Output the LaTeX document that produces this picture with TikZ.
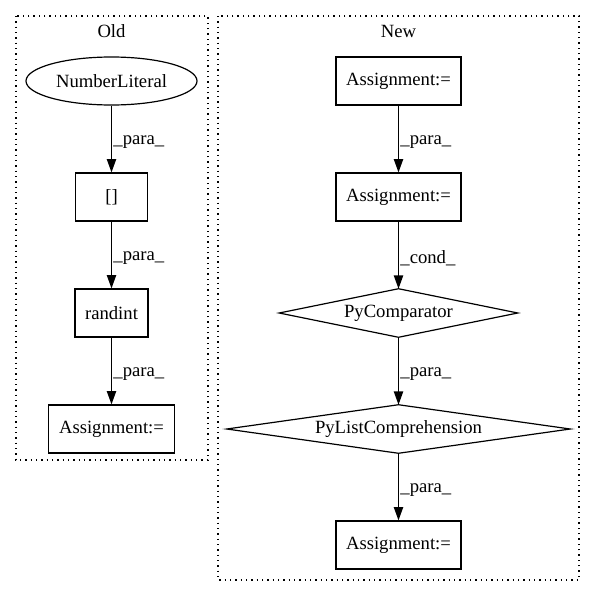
\documentclass[tikz,border=0pt]{standalone}
\usepackage{fontspec}
\setmainfont{Liberation Serif}
\usetikzlibrary{shapes.geometric,arrows.meta}
\begin{document}
\begin{tikzpicture}[x=0.75pt,y=-0.75pt,
  every node/.style={font=\fontsize{14}{16}\selectfont},
  box/.style={draw,line width=0.9pt,rectangle,inner sep=0pt,minimum height=36pt},
  ell/.style={draw,line width=0.9pt,ellipse,inner sep=0pt,minimum width=128.25pt,minimum height=36pt},
  dia/.style={inner sep=0pt,minimum height=36pt},
  cluster/.style={line width=0.9pt,dash pattern=on 1pt off 3pt},
  arr/.style={line width=0.9pt,-{Triangle[length=10pt,width=7pt]}},
  lbl/.style={anchor=west,inner sep=0pt,xshift=1pt,pos=0.55}]
\useasboundingbox (0,0) rectangle (595,596);
% clusters
\draw[cluster] (16,16) rectangle (208,460);
\draw[cluster] (218,16) rectangle (579,580);
\node (oldlbl) at (111.5,31) {Old};
\node (newlbl) at (398.5,31) {New};
% Old
\node[ell] (num) at (111.5,81) {NumberLiteral};
\node[box,minimum width=54pt] (br) at (111.5,197) {[]};
\node[box,minimum width=54.75pt] (rnd) at (111.5,313) {randint};
\node[box,minimum width=94.5pt] (oa) at (111.5,429) {Assignment:=};
\draw[arr] (num.south) -- node[lbl]{\_para\_} (br.north);
\draw[arr] (br.south) -- node[lbl]{\_para\_} (rnd.north);
\draw[arr] (rnd.south) -- node[lbl]{\_para\_} (oa.north);
% New
\node[box,minimum width=93.75pt] (a1) at (398.5,81) {Assignment:=};
\node[box,minimum width=93.75pt] (a2) at (398.5,197) {Assignment:=};
\node[dia,minimum width=178.5pt] (pc) at (398.5,313) {PyComparator};
\draw[line width=0.9pt] (pc.west) -- (pc.north) -- (pc.east) -- (pc.south) -- cycle;
\node[dia,minimum width=257.25pt] (pl) at (398.5,429) {PyListComprehension};
\draw[line width=0.9pt] (pl.west) -- (pl.north) -- (pl.east) -- (pl.south) -- cycle;
\node[box,minimum width=93.75pt] (a3) at (398.5,545) {Assignment:=};
\draw[arr] (a1.south) -- node[lbl]{\_para\_} (a2.north);
\draw[arr] (a2.south) -- node[lbl]{\_cond\_} (pc.north);
\draw[arr] (pc.south) -- node[lbl]{\_para\_} (pl.north);
\draw[arr] (pl.south) -- node[lbl]{\_para\_} (a3.north);
\end{tikzpicture}
\end{document}
